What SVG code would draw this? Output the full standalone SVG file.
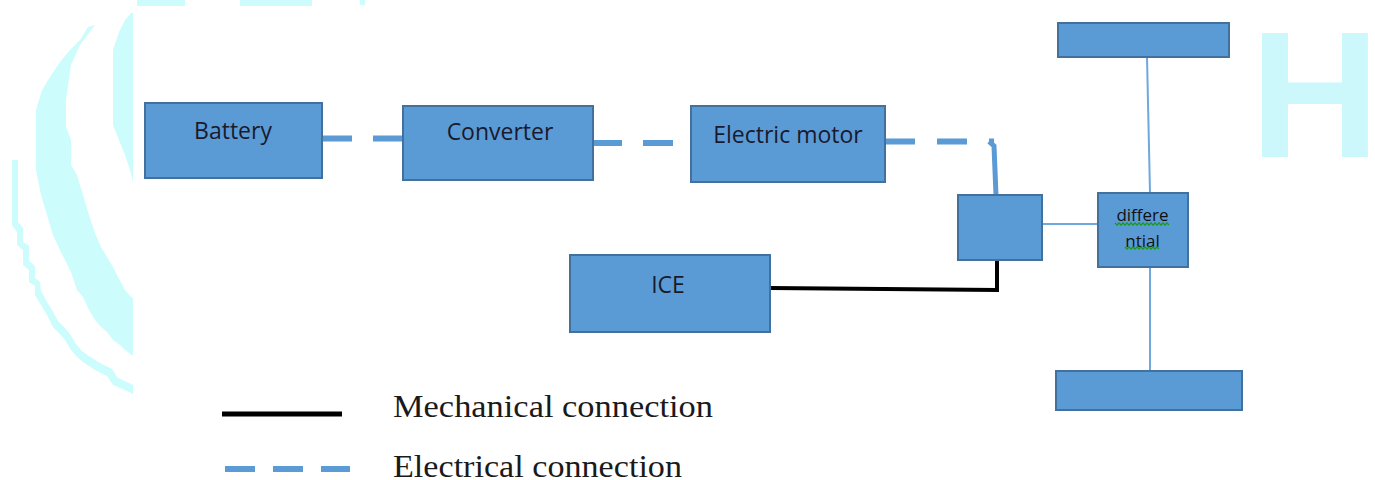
<svg xmlns="http://www.w3.org/2000/svg" width="1375" height="480" viewBox="0 0 1375 480">
<style>
.box{fill:#5b9bd5;stroke:#41719c;stroke-width:2}
.lbl{font-family:"Open Sans","Liberation Sans",sans-serif;font-size:23px;fill:#1a1a2e;text-anchor:middle}
.small{font-family:"Open Sans","Liberation Sans",sans-serif;font-size:17px;fill:#111;text-anchor:middle}
.elec{fill:none;stroke:#5b9bd5;stroke-width:6}
.mech{fill:none;stroke:#000;stroke-width:4}
.thin{fill:none;stroke:#6fa8dc;stroke-width:2}
.leg{font-family:"Liberation Serif","Times New Roman",serif;font-size:32px;fill:#1a1a1a}
.wm{fill:#ccfcfc}
.sq{fill:none;stroke:#1a9a1a;stroke-width:1.3}
</style>
<defs>
<clipPath id="wmclip"><rect x="0" y="0" width="133" height="480"/></clipPath>
</defs>
<rect width="1375" height="480" fill="#fff"/>
<g id="watermark">
<g clip-path="url(#wmclip)">
<path class="wm" d="M131,13 L125,20 L119,32 L113,50 L113,125 L119,140 L125,155 L130,170 L133,182 L140,182 L140,13 Z"/>
<path class="wm" d="M95,25 L88,27 L80,40 L70,50 L60,62 L48,80 L42,90 L36,110 L36,170 L41,195 L47,215 L53,235 L60,250 L66,262 L71,272 L77,290 L83,297 L89,310 L95,320 L101,327 L107,332 L113,340 L120,345 L125,350 L133,356 L140,356 L140,300 L131,297 L125,290 L118,277 L113,267 L107,257 L101,247 L95,233 L89,215 L83,195 L77,175 L71,165 L71,140 L66,127 L66,100 L71,65 L80,45 Z"/>
<path class="wm" d="M12,160 L12,225 L17,232 L17,245 L23,250 L23,265 L29,270 L29,282 L35,286 L35,295 L41,305 L47,315 L53,327 L59,333 L65,340 L71,350 L77,357 L83,362 L95,370 L107,376 L113,385 L125,390 L133,394 L140,394 L140,385 L133,385 L129,383 L118,378 L112,369 L100,363 L89,356 L82,351 L76,344 L70,334 L64,327 L58,321 L52,310 L46,300 L41,291 L40,282 L35,278 L35,266 L29,261 L29,246 L23,242 L23,228 L18,222 L18,160 Z"/>
</g>
<rect class="wm" x="137" y="0" width="48" height="6"/>
<rect class="wm" x="240" y="0" width="72" height="6"/>
<rect class="wm" x="360" y="0" width="5" height="5"/>
<text x="1250" y="157" font-family="Liberation Sans, Arial, sans-serif" font-weight="bold" font-size="180" fill="#ccf8fc">H</text>
</g>
<g id="connectors">
<path class="elec" d="M322,138.5 H403" stroke-dasharray="30 21"/>
<path class="elec" d="M592,143 H691" stroke-dasharray="30 21"/>
<path class="elec" d="M885,141.5 H994" stroke-dasharray="30 22"/>
<path fill="none" stroke="#5b9bd5" stroke-width="5" d="M989,141.5 L994,146 L996,195"/>
<path class="mech" d="M770,288 L997,290 L997,260"/>
<path class="thin" d="M1042,224 H1098" stroke-width="1.5"/>
<path class="thin" d="M1147,57 L1150,193"/>
<path class="thin" d="M1150,267 L1150,371"/>
</g>
<g id="battery">
<rect class="box" x="145" y="103" width="177" height="75"/>
<text class="lbl" x="233" y="139">Battery</text>
</g>
<g id="converter">
<rect class="box" x="403" y="106" width="190" height="74"/>
<text class="lbl" x="500" y="140">Converter</text>
</g>
<g id="electric-motor">
<rect class="box" x="691" y="106" width="194" height="76"/>
<text class="lbl" x="788" y="143">Electric motor</text>
</g>
<g id="ice">
<rect class="box" x="570" y="255" width="200" height="77"/>
<text class="lbl" x="668" y="293">ICE</text>
</g>
<g id="coupler">
<rect class="box" x="958" y="195" width="84" height="65"/>
</g>
<g id="differential">
<rect class="box" x="1098" y="193" width="90" height="74"/>
<text class="small" x="1142.5" y="221">differe</text>
<text class="small" x="1142.5" y="247">ntial</text>
<path class="sq" d="M1115,223 l2,2 l2,-2 l2,2 l2,-2 l2,2 l2,-2 l2,2 l2,-2 l2,2 l2,-2 l2,2 l2,-2 l2,2 l2,-2 l2,2 l2,-2 l2,2 l2,-2 l2,2 l2,-2 l2,2 l2,-2 l2,2 l2,-2 l2,2 l2,-2 l2,2"/>
<path class="sq" d="M1125,247 l2,2 l2,-2 l2,2 l2,-2 l2,2 l2,-2 l2,2 l2,-2 l2,2 l2,-2 l2,2 l2,-2 l2,2 l2,-2 l2,2 l2,-2 l2,2"/>
</g>
<g id="wheel-top">
<rect class="box" x="1058" y="23" width="171" height="34"/>
</g>
<g id="wheel-bottom">
<rect class="box" x="1056" y="371" width="186" height="39"/>
</g>
<g id="legend">
<path fill="none" stroke="#000" stroke-width="5" d="M222,414 H342"/>
<text class="leg" x="393" y="417" textLength="320" lengthAdjust="spacingAndGlyphs">Mechanical connection</text>
<path class="elec" d="M225,469 H350" stroke-dasharray="30 18"/>
<text class="leg" x="393" y="477" textLength="289" lengthAdjust="spacingAndGlyphs">Electrical connection</text>
</g>
</svg>
